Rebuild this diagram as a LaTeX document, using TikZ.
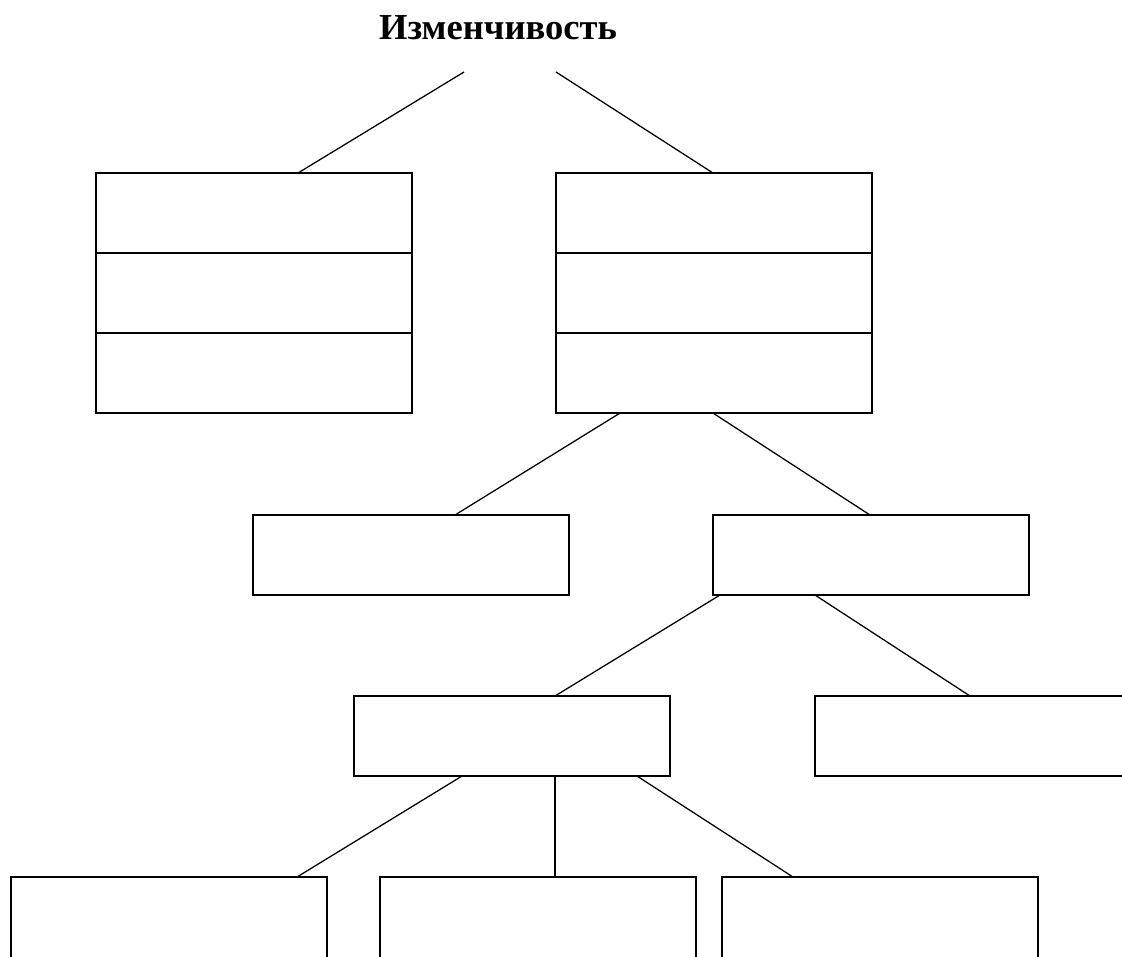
\documentclass[tikz,border=0pt]{standalone}
\usepackage{fontspec}
\setmainfont{Liberation Serif}
\usetikzlibrary{positioning}

\tikzset{
  cell/.style={draw, line width=0.9pt, minimum width=7.9cm, minimum height=2cm,
    inner sep=0pt, outer sep=0pt},
  tallcell/.style={cell, minimum height=2.6cm},
  link/.style={line width=0.9pt},
}

\begin{document}
\begin{tikzpicture}[x=0.025cm, y=-0.025cm]
  \path[use as bounding box, clip] (0,0) rectangle (1122,956);
  % heading
  \node[font=\bfseries\fontsize{26}{30}\selectfont, anchor=base] (title) at (498,39) {Изменчивость};
  \coordinate (t1) at (464,72);
  \coordinate (t2) at (556,72);
  % two columns of three cells
  \node[cell, anchor=north west] (l1) at (96,173) {};
  \node[cell, below=0pt of l1] (l2) {};
  \node[cell, below=0pt of l2] (l3) {};
  \node[cell, anchor=north west] (r1) at (556,173) {};
  \node[cell, below=0pt of r1] (r2) {};
  \node[cell, below=0pt of r2] (r3) {};
  % second level
  \node[cell, anchor=north west] (m1) at (253,515) {};
  \node[cell, anchor=north west] (m2) at (713,515) {};
  % third level
  \node[cell, anchor=north west] (n1) at (354,696) {};
  \node[cell, anchor=north west] (n2) at (815,696) {};
  % bottom row
  \node[tallcell, anchor=north west] (b1) at (11,877) {};
  \node[tallcell, anchor=north west] (b2) at (380,877) {};
  \node[tallcell, anchor=north west] (b3) at (722,877) {};
  % links
  \draw[link] (t1) -- ([shift={(202,0)}]l1.north west);
  \draw[link] (t2) -- ([shift={(157,0)}]r1.north west);
  \draw[link] ([shift={(64,0)}]r3.south west) -- ([shift={(202,0)}]m1.north west);
  \draw[link] ([shift={(157,0)}]r3.south west) -- ([shift={(157,0)}]m2.north west);
  \draw[link] ([shift={(7,0)}]m2.south west) -- ([shift={(201,0)}]n1.north west);
  \draw[link] ([shift={(102,0)}]m2.south west) -- ([shift={(155,0)}]n2.north west);
  \draw[link] ([shift={(108,0)}]n1.south west) -- ([shift={(286,0)}]b1.north west);
  \draw[link] ([shift={(201,0)}]n1.south west) -- ([shift={(175,0)}]b2.north west);
  \draw[link] ([shift={(283,0)}]n1.south west) -- ([shift={(71,0)}]b3.north west);
\end{tikzpicture}
\end{document}
